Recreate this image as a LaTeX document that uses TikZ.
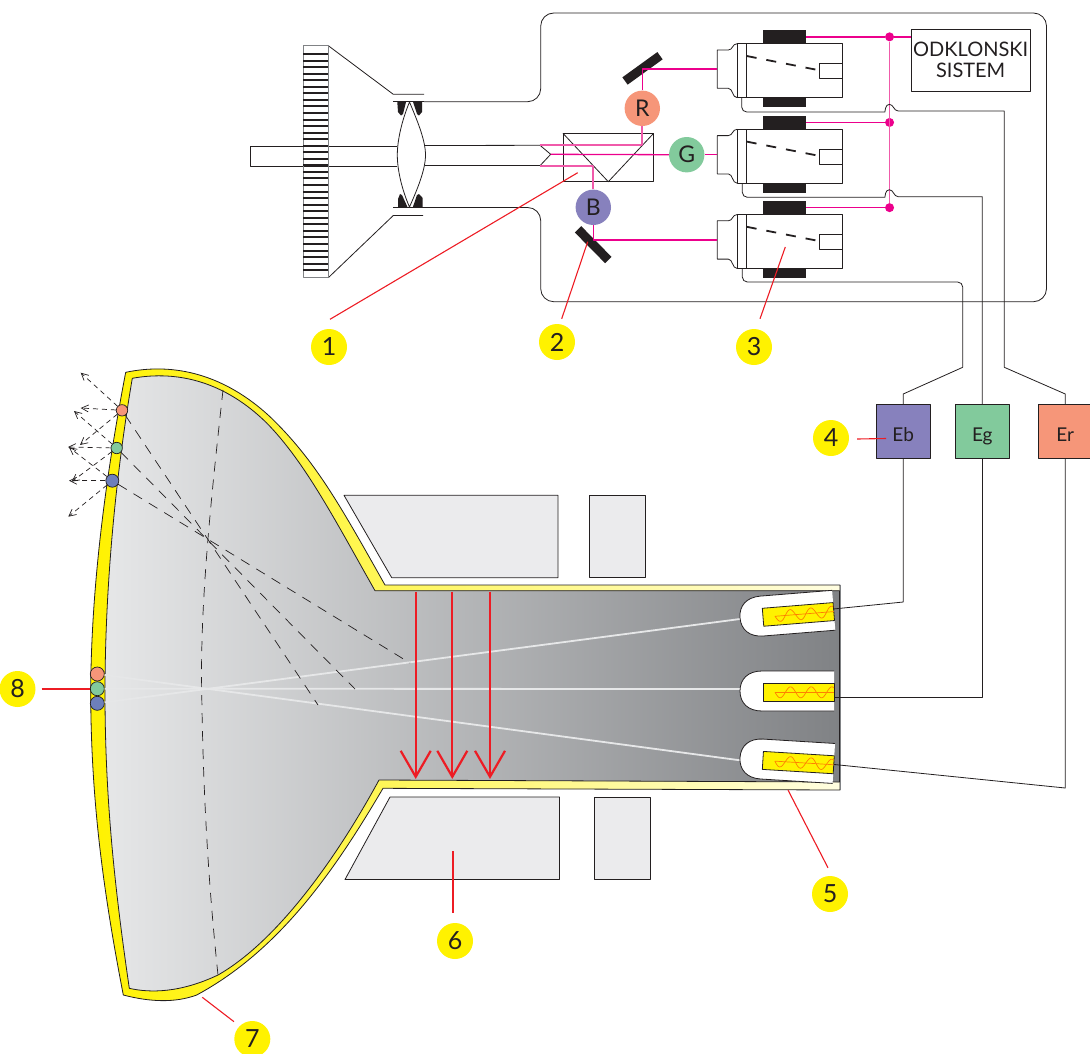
\documentclass[tikz,border=0pt]{standalone}
\usepackage{fontspec}
\setmainfont{Lato}
\usepackage{tikz}
\usetikzlibrary{
  arrows.meta,
  positioning,
  calc
}
\definecolor{inkdark}{RGB}{35,31,32}
\definecolor{magenta}{RGB}{236,0,140}
\definecolor{softpink}{RGB}{240,90,170}
\definecolor{leadred}{RGB}{237,28,36}
\definecolor{tagyellow}{RGB}{255,242,0}
\definecolor{paleyellow}{RGB}{255,253,225}
\definecolor{orangedot}{RGB}{246,150,121}
\definecolor{greendot}{RGB}{130,202,156}
\definecolor{violetdot}{RGB}{135,129,189}
\definecolor{bluedot}{RGB}{109,127,187}
\definecolor{blockgray}{RGB}{235,235,237}
\definecolor{glasslight}{RGB}{230,231,232}
\definecolor{glassdark}{RGB}{128,130,133}
\newcommand{\fs}[1]{\fontsize{#1}{#1}\selectfont}

\begin{document}
\begin{tikzpicture}[x=1pt, y=-1pt, line join=round,
            outline/.style={draw=inkdark, line width=0.8pt},
            feed/.style={draw=magenta, line width=1.3pt},
            softfeed/.style={draw=softpink, line width=1.8pt},
            leader/.style={draw=leadred, line width=1.1pt},
            tag/.style={circle, fill=tagyellow, minimum size=36pt, inner sep=0pt, text=inkdark, font=\fs{25}},
            beamdot/.style={circle, minimum size=35.4pt, inner sep=0pt, text=inkdark, font=\fs{23}},
            supply/.style={rectangle, outline, minimum size=53.7pt, inner sep=0pt, outer sep=0pt, text=inkdark, font=\fs{19}, text height=20pt, text depth=0pt},
            camera/.style={rectangle, outline, minimum width=104.7pt, minimum height=54pt, inner sep=0pt, outer sep=0pt},
            coil/.style={rectangle, fill=inkdark, minimum width=43pt, inner sep=0pt, outer sep=0pt},
            junction/.style={circle, fill=magenta, minimum size=9pt, inner sep=0pt},
            mirrorbar/.style={draw=inkdark, line width=9pt},
            block/.style={fill=blockgray, outline},
            screendot/.style={circle, draw=inkdark, line width=0.7pt, inner sep=0pt},
            scan/.style={draw=inkdark, line width=0.7pt, dash pattern=on 10pt off 8pt},
            scatter/.style={draw=inkdark, line width=0.7pt, dash pattern=on 5pt off 4pt, -{Straight Barb[length=7pt,width=7pt]}},
            deflect/.style={draw=leadred, line width=2.2pt, -{Straight Barb[length=26pt,width=30pt]}},
            ebeam/.style={draw=glasslight, line width=1.8pt},
            wave/.style={draw=orange, line width=0.7pt}]
  \useasboundingbox (0,0) rectangle (1090,1053);

  % housing
  \draw [outline, rounded corners=13pt] (424,101.7) -- (540.7,101.7) -- (540.7,13) -- (1046.5,13) -- (1046.5,301.7) -- (540.7,301.7) -- (540.7,207.5) -- (393,207.5);
  \draw [outline] (328.3,45.7) -- (393.3,94.3) -- (424,94.3);
  \draw [outline] (393.3,101.7) -- (424,101.7);
  \draw [outline] (328.3,277.7) -- (393.3,215.5) -- (423,215.5);

  % target and objective
  \draw [outline] (397,146.5) -- (250.7,146.5) -- (250.7,166) -- (397,166);
  \draw [outline] (425,145.5) -- (540,145.3);
  \draw [outline] (425,165.7) -- (540,165.7);
  \draw [outline] (540,145.3) -- (550.7,154.3) -- (540,165.7);
  \draw [draw=glassdark, line width=0.7pt] (303.3,45.7) rectangle (328.3,277.7);
  \foreach \sy in {0,...,33}
    \draw [draw=inkdark, line width=2pt] (303.3,{54+6.55*\sy}) -- (328.3,{54+6.55*\sy});
  \fill [inkdark] (397.3,102) -- (406,102) -- (403,114) -- (401,115.5) -- (398,112) -- cycle;
  \fill [inkdark] (413,102) -- (422,102) -- (422,112) -- (419,115.5) -- (417,114) -- cycle;
  \fill [inkdark] (398,207.5) -- (407.7,207.5) -- (402,195) -- (400,194) -- (398,199) -- cycle;
  \fill [inkdark] (412.7,207.5) -- (422.7,207.5) -- (422.7,198) -- (419,194) -- (417,195) -- cycle;
  \draw [outline, fill=white] (409.5,102) .. controls (402,120) and (397.3,140) .. (397.3,155) .. controls (397.3,170) and (402,190) .. (409.5,207) .. controls (417,190) and (425.5,170) .. (425.5,155) .. controls (425.5,140) and (417,120) .. cycle;

  % prism, mirrors, colour circles
  \node [rectangle, outline, minimum width=90.7pt, minimum height=48.4pt, inner sep=0pt, outer sep=0pt] (prism) at (608.3,157.5) {};
  \draw [outline] (prism.north west) -- (prism.south) -- (prism.north east);
  \coordinate (mirrortopa) at (625,81);
  \coordinate (mirrortopb) at (660,55.7);
  \coordinate (mirrorbota) at (578,229.3);
  \coordinate (mirrorbotb) at (608.3,260);
  \path [mirrorbar] (mirrortopa) -- (mirrortopb);
  \path [mirrorbar] (mirrorbota) -- (mirrorbotb);

  % pickup tubes
  \foreach \cam/\cy in {r/70.7, g/156.3, b/241.5} {
    \node [camera] (cam\cam) at (789.65,\cy) {};
    \draw [outline] (737.3,{\cy-27}) .. controls (732,{\cy-27}) and (733,{\cy-20.7}) .. (728.3,{\cy-20.7}) -- (717.3,{\cy-20.7}) -- (717.3,{\cy+17.6}) -- (728.3,{\cy+17.6}) .. controls (733,{\cy+17.6}) and (732,{\cy+27}) .. (737.3,{\cy+27});
    \draw [outline] (746.7,{\cy-27}) -- (746.7,{\cy+27});
    \draw [outline] (737.3,{\cy-27}) -- (737.3,{\cy+27});
    \draw [inkdark, line width=1.8pt, dash pattern=on 10pt off 10pt] (746.7,{\cy-14.7}) -- (819.3,{\cy-0.4});
    \draw [outline] (819.3,{\cy-7.4}) rectangle (842,{\cy+7.6});
    \node [coil, minimum height=13.7pt, above=0pt of cam\cam, xshift=-5.1pt] (coil\cam) {};
    \node [coil, minimum height=9.2pt, below=0pt of cam\cam, xshift=-5.1pt] {};
    \node [junction, right=78.8pt of coil\cam] (junc\cam) {};
    \coordinate (cap\cam) at (717.3,{\cy-1.6});
    \path [feed] (coil\cam) -- (junc\cam);
  }
  \path [softfeed] (juncr) -- (juncb);

  % deflection box and supplies
  \node [rectangle, outline, minimum width=118.7pt, minimum height=62pt, inner sep=0pt, outer sep=0pt, align=center, text=inkdark, font=\fontsize{20}{21}\selectfont] (sys) at (970.65,60.3) {ODKLONSKI\\SISTEM};
  \path [feed] (juncr) -- (juncr -| sys.west);
  \node [supply, fill=violetdot] (eb) at (903.2,431.5) {Eb};
  \node [supply, fill=greendot, right=25.4pt of eb] (eg) {Eg};
  \node [supply, fill=orangedot, right=29.3pt of eg] (er) {Er};

  % colour beams
  \coordinate (beamup) at (540,145.3);
  \coordinate (beamdown) at (540,165.7);
  \coordinate (beamtip) at (550.7,154.3);
  \node [beamdot, fill=orangedot] (redc) at (642.3,108.3) {R};
  \node [beamdot, fill=greendot] (greenc) at (686.7,154.7) {G};
  \node [beamdot, fill=violetdot] (bluec) at (593.3,207.3) {B};
  \path [softfeed] (beamup) -- (redc.south |- beamup) -- (redc.south);
  \path [softfeed] (beamdown) -- (bluec.north |- beamdown) -- (bluec.north);
  \path [feed] (beamtip) -- (greenc.west);
  \path [feed] (greenc.east) -- (capg);
  \path [feed] (redc.north) |- (capr);
  \path [feed] (bluec.south) |- (capb);

  % picture tube
  \path [left color=tagyellow, right color=paleyellow, outline] (125.7,372.3) .. controls (175,362) and (225,375) .. (270,416.7) .. controls (315,460) and (340,505) .. (385,585) -- (840,585) -- (840,790) -- (383,788.3) .. controls (335,870) and (280,950) .. (196.7,995) .. controls (175,1003) and (150,1002) .. (123.3,995) .. controls (103,890) and (91,800) .. (90.7,693) .. controls (91,590) and (105,480) .. cycle;
  \path [left color=glasslight, right color=glassdark, outline] (132.3,378.3) .. controls (178,370) and (225,382) .. (266.7,423) .. controls (305,462) and (335,520) .. (375,590.7) -- (839.5,590.7) -- (839.5,782) -- (379,780) .. controls (335,861) and (276,942) .. (218,975) .. controls (180,993) and (150,993) .. (129.3,988.3) .. controls (115,890) and (105,800) .. (105,693) .. controls (105,590) and (115,480) .. cycle;

  % deflection blocks
  \draw [block] (344,495.3) -- (558,495.3) -- (558,577.7) -- (391.7,577.7) -- cycle;
  \draw [block] (589.7,495.7) rectangle (645.3,577.7);
  \draw [block] (345,879.5) -- (390,797) -- (559.5,797) -- (559.5,879.5) -- cycle;
  \draw [block] (594.7,797) rectangle (650,879);

  % screen dots and beams
  \node [screendot, fill=orangedot, minimum size=14pt] (spotr) at (97.3,674) {};
  \node [screendot, fill=greendot, minimum size=14pt] (spotg) at (97.3,688.7) {};
  \node [screendot, fill=bluedot, minimum size=14pt] (spotb) at (97.3,703.3) {};
  \coordinate (gunb) at (740,619);
  \coordinate (gung) at (740,689);
  \coordinate (gunr) at (740,760.3);
  \path [ebeam] (gunb) -- (spotb);
  \path [ebeam] (gung) -- (spotg);
  \path [ebeam] (gunr) -- (spotr);

  % electron guns
  \foreach \gy/\gang/\gname/\py in {617.8/4.6/b/-1.3, 691/0/g/6, 757.7/-3.5/r/1} {
    \begin{scope}[shift={(740,\gy)}, rotate=\gang]
      \draw [outline, fill=white] (94,-20) -- (22,-20) .. controls (8,-20) and (0,-12) .. (0,0) .. controls (0,12) and (8,20) .. (22,20) -- (94,20);
      \draw [outline, fill=tagyellow] (23,-7.7) rectangle (94,10.3);
      \draw [wave] plot [domain=0:59, samples=60] ({35+\x},{1.3+5.5*sin(\x*17.4)});
      \draw [wave] (35,1.3) -- (94,1.3);
      \coordinate (pin\gname) at (94,\py);
    \end{scope}
  }
  \draw [outline, draw=glassdark] (840,585) -- (840,790);

  % wires to the supplies
  \draw [outline, rounded corners=5pt] (741.7,97.7) -- (741.7,112) -- (880,112) [sharp corners] .. controls (885,112) and (885,104.3) .. (889.3,104.3) .. controls (893.6,104.3) and (893.6,111) .. (898.3,111) -- (1004.3,111) -- (1004.3,367.3) -- (er.north |- 0,394) -- (er.north);
  \draw [outline, rounded corners=5pt] (742.3,183.3) -- (742.3,197.3) -- (880,197.3) [sharp corners] .. controls (885,197.3) and (885,189.7) .. (889.3,189.7) .. controls (893.6,189.7) and (893.6,196.7) .. (898.3,196.7) -- (eg.north |- 0,196.7) -- (eg.north);
  \draw [outline, rounded corners=5pt] (742.3,268.3) -- (742.3,282) -- (962.7,282) [sharp corners] -- (962.7,367.3) -- (eb.north |- 0,394) -- (eb.north);
  \draw [outline] (eb.south) -- (eb.south |- 0,602) -- (pinb);
  \draw [outline] (eg.south) -- (eg.south |- ping) -- (ping);
  \draw [outline] (er.south) -- (er.south |- 0,788) -- (pinr);

  % screen detail
  \node [screendot, fill=orangedot, minimum size=11.4pt] (dotr) at (122,410.3) {};
  \node [screendot, fill=greendot, minimum size=11.4pt] (dotg) at (116.7,448) {};
  \node [screendot, fill=bluedot, minimum size=13pt] (dotb) at (112.3,480.7) {};
  \coordinate (scanr) at (318,705);
  \coordinate (scang) at (355,689);
  \coordinate (scanb) at (410,663);
  \path [scan] (dotr) -- (scanr);
  \path [scan] (dotg) -- (scang);
  \path [scan] (dotb) -- (scanb);
  \draw [scan] (223,390) .. controls (212,490) and (200,600) .. (201.7,690) .. controls (203,790) and (208,880) .. (218,975);
  \foreach \src/\ends in {dotr/{80.7/372.7, 80.7/408, 80/445}, dotg/{74/411, 68/447, 71.7/481.7}, dotb/{69/447.3, 69/480.7, 68.3/516.7}}
    \foreach \ex/\ey in \ends {
      \coordinate (ray) at (\ex,\ey);
      \path [scatter] (\src) -- (ray);
    }

  % deflecting field
  \foreach \ax in {415.7, 452.3, 490} {
    \coordinate (fieldtop) at (\ax,591.7);
    \coordinate (fieldbot) at (\ax,779);
    \path [deflect] (fieldtop) -- (fieldbot);
  }

  % numbered labels
  \node [tag] (lone) at (329,347) {1};
  \node [tag] (ltwo) at (557,342) {2};
  \node [tag] (lthree) at (754,347) {3};
  \node [tag] (lfour) at (831,438) {4};
  \node [tag] (lfive) at (830,894) {5};
  \node [tag] (lsix) at (455,941) {6};
  \node [tag] (lseven) at (252.3,1039) {7};
  \node [tag] (leight) at (17.5,689) {8};
  \coordinate (tone) at (577.7,172.7);
  \coordinate (ttwo) at (587.7,241.7);
  \coordinate (tthree) at (785.3,247);
  \coordinate (tfour) at (886,438.5);
  \coordinate (tfive) at (788,790);
  \coordinate (tsix) at (453,851);
  \coordinate (tseven) at (202.3,997.3);
  \coordinate (teight) at (89.5,689);
  \path [leader] ($(lone.north)+(1,-9.5)$) -- (tone);
  \path [leader] ($(ltwo.north)+(4.7,-5)$) -- (ttwo);
  \path [leader] ($(lthree.north)+(6,-10)$) -- (tthree);
  \path [leader] ($(lfour.east)+(8,1)$) -- (tfour);
  \path [leader] ($(lfive.north)+(-2,-8)$) -- (tfive);
  \path [leader] ($(lsix.north)+(-2,-10)$) -- (tsix);
  \path [leader] ($(lseven.north west)+(-5.5,-4.5)$) -- (tseven);
  \path [leader] ($(leight.east)+(6,0)$) -- (teight);
\end{tikzpicture}
\end{document}
